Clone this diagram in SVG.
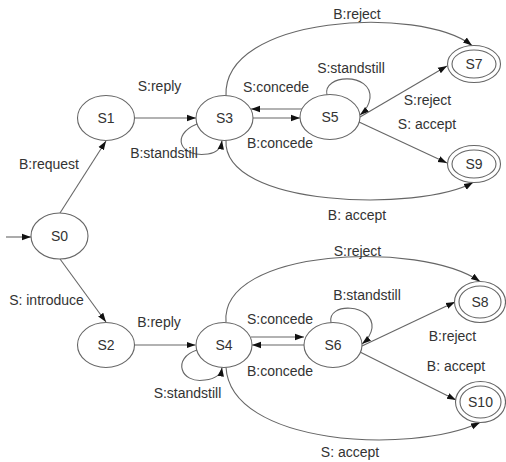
<svg xmlns="http://www.w3.org/2000/svg" width="506" height="462" viewBox="0 0 506 462">
<defs>
<marker id="ah" viewBox="0 0 10 10" refX="10" refY="5" markerWidth="9" markerHeight="9" markerUnits="userSpaceOnUse" orient="auto">
<path d="M0,1.5 L10,5 L0,8.5 z" fill="#111"/>
</marker>
<style>
.n{fill:#fff;stroke:#666;stroke-width:1.1}
.e{fill:none;stroke:#666;stroke-width:1.1;marker-end:url(#ah)}
text{font-family:"Liberation Sans",Arial,sans-serif;font-size:14px;fill:#333;text-anchor:middle}
</style>
</defs>
<rect width="506" height="462" fill="#fff"/>
<g id="connectors">
<path class="e" d="M6,237 L31,237"/>
<path class="e" d="M60,213 L106,141"/>
<path class="e" d="M60,259 L106,322"/>
<path class="e" d="M134.5,118 L196,118"/>
<path class="e" d="M197,124 C170,135 180,158 208,154 C216,153 221,148 222,140.5"/>
<path class="e" d="M253,118 L300,118"/>
<path class="e" d="M302,109 L251,109"/>
<path class="e" d="M327,95 C322,74 372,72 370,98 C369,106 365,111 360,115"/>
<path class="e" d="M360,117 L447,66"/>
<path class="e" d="M359,122 L447,163"/>
<path class="e" d="M226,96 C222,15 420,5 472,45.5"/>
<path class="e" d="M226,140 C222,208 420,212 473,182.5"/>
<path class="e" d="M134.5,345 L195.5,345"/>
<path class="e" d="M197,350 C172,358 180,384 205,380 C214,379 221,375 222,367.5"/>
<path class="e" d="M251,337 L304,337"/>
<path class="e" d="M304,345 L252,345"/>
<path class="e" d="M331,323 C326,302 374,303 372,328 C371,335 367,340 362,344"/>
<path class="e" d="M362,346 L455,302"/>
<path class="e" d="M360,352 L456,400"/>
<path class="e" d="M226,322 C220,248 420,240 480,281.5"/>
<path class="e" d="M226,367 C230,445 410,455 480,422.5"/>
</g>
<g id="labels">
<text x="49" y="169">B:request</text>
<text x="46.5" y="305">S: introduce</text>
<text x="159.5" y="91">S:reply</text>
<text x="164" y="158">B:standstill</text>
<text x="357" y="19">B:reject</text>
<text x="351" y="73">S:standstill</text>
<text x="276" y="92">S:concede</text>
<text x="280" y="148">B:concede</text>
<text x="427.5" y="104.5">S:reject</text>
<text x="427" y="129">S: accept</text>
<text x="357" y="220">B: accept</text>
<text x="357.5" y="256">S:reject</text>
<text x="367" y="300">B:standstill</text>
<text x="280" y="323.5">S:concede</text>
<text x="159" y="327">B:reply</text>
<text x="280" y="375.5">B:concede</text>
<text x="452.5" y="341">B:reject</text>
<text x="456" y="370.5">B: accept</text>
<text x="187.5" y="397.5">S:standstill</text>
<text x="350" y="457">S: accept</text>
</g>
<g id="S0"><ellipse class="n" cx="59.5" cy="236" rx="28.5" ry="23"/><text x="59.5" y="241">S0</text></g>
<g id="S1"><ellipse class="n" cx="106" cy="118" rx="28.5" ry="22.5"/><text x="106" y="123">S1</text></g>
<g id="S2"><ellipse class="n" cx="106" cy="345" rx="28.5" ry="22.5"/><text x="106" y="350">S2</text></g>
<g id="S3"><ellipse class="n" cx="224.5" cy="118" rx="28.5" ry="22.5"/><text x="224.5" y="123">S3</text></g>
<g id="S4"><ellipse class="n" cx="224" cy="345" rx="28" ry="22.5"/><text x="224" y="350">S4</text></g>
<g id="S5"><ellipse class="n" cx="330" cy="117" rx="30" ry="22.5"/><text x="330" y="122">S5</text></g>
<g id="S6"><ellipse class="n" cx="333" cy="345" rx="29" ry="22.5"/><text x="333" y="350">S6</text></g>
<g id="S7"><ellipse class="n" cx="474" cy="64" rx="26.5" ry="18.5"/><ellipse class="n" cx="474" cy="64" rx="22" ry="14"/><text x="474" y="69">S7</text></g>
<g id="S9"><ellipse class="n" cx="474" cy="164" rx="26.5" ry="18.5"/><ellipse class="n" cx="474" cy="164" rx="22" ry="14"/><text x="474" y="169">S9</text></g>
<g id="S8"><ellipse class="n" cx="480" cy="302" rx="25.5" ry="20.5"/><ellipse class="n" cx="480" cy="302" rx="21" ry="16"/><text x="480" y="307">S8</text></g>
<g id="S10"><ellipse class="n" cx="480.5" cy="402" rx="25" ry="20.5"/><ellipse class="n" cx="480.5" cy="402" rx="20.5" ry="16"/><text x="480.5" y="407">S10</text></g>
</svg>
